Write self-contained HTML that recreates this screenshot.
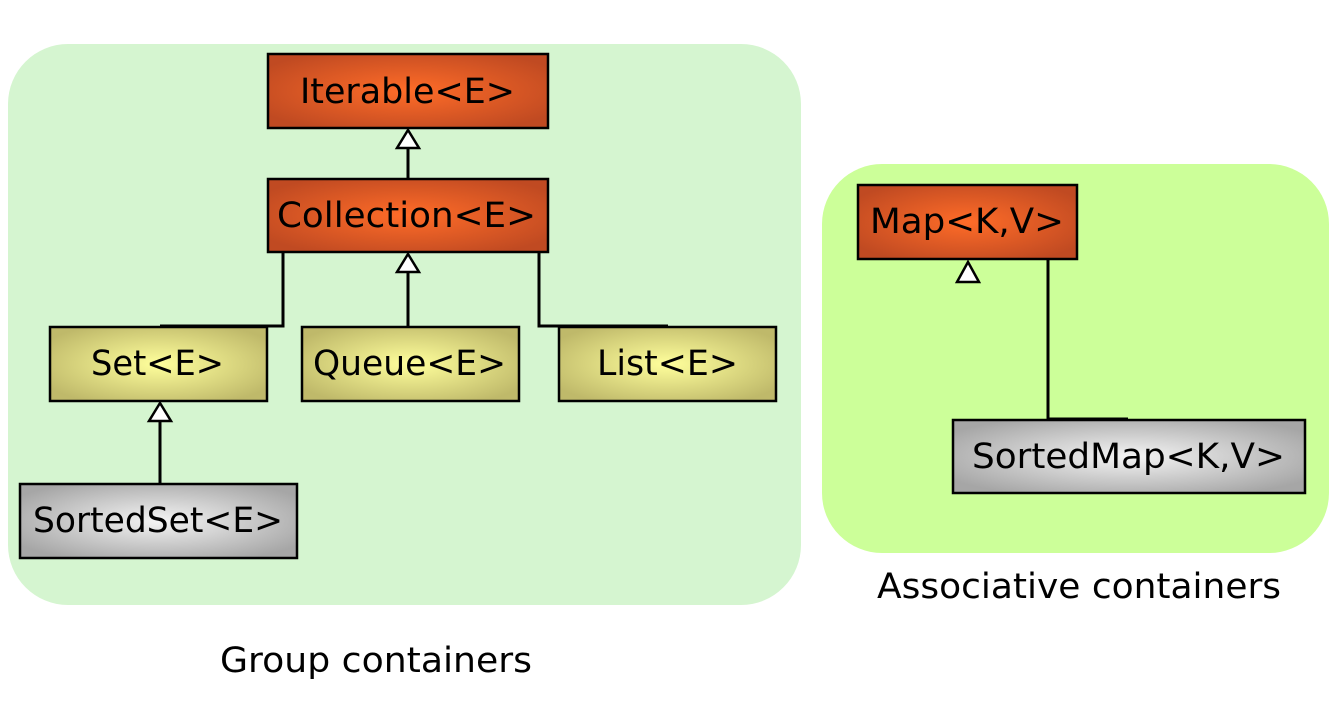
<!DOCTYPE html>
<html><head><style>body{margin:0;background:#fff}svg{display:block}</style></head>
<body>
<svg width="1338" height="713" viewBox="0 0 1338 713" font-family="'DejaVu Sans','Liberation Sans',sans-serif">
<defs>
<radialGradient id="o" cx="50%" cy="50%" r="60%"><stop offset="0" stop-color="#ff6c28"/><stop offset="1" stop-color="#c04a22"/></radialGradient>
<radialGradient id="y" cx="50%" cy="50%" r="60%"><stop offset="0" stop-color="#ffff9c"/><stop offset="1" stop-color="#bfb96a"/></radialGradient>
<radialGradient id="g" cx="50%" cy="50%" r="60%"><stop offset="0" stop-color="#f4f4f4"/><stop offset="1" stop-color="#a6a6a6"/></radialGradient>
</defs>
<rect x="8" y="44" width="793" height="561" rx="60" fill="#d5f5d0"/>
<rect x="822" y="164" width="507" height="389" rx="60" fill="#ccff99"/>
<g stroke="#000" stroke-width="3" fill="none">
<path d="M408 148V179"/><path d="M408 272V327"/>
<path d="M283 252V326H160"/><path d="M539 252V326H668"/>
<path d="M160 421V484"/>
<path d="M1048 259V419H1128"/>
</g>
<g stroke="#000" stroke-width="2.5" fill="#fff">
<path d="M408 130L397 148H419Z"/><path d="M408 254L397 272H419Z"/>
<path d="M160 403L149 421H171Z"/><path d="M968 262L957 282H979Z"/>
</g>
<g stroke="#000" stroke-width="2.5">
<rect x="268" y="54" width="280" height="74" fill="url(#o)"/>
<rect x="268" y="179" width="280" height="73" fill="url(#o)"/>
<rect x="50" y="327" width="217" height="74" fill="url(#y)"/>
<rect x="302" y="327" width="217" height="74" fill="url(#y)"/>
<rect x="559" y="327" width="217" height="74" fill="url(#y)"/>
<rect x="20" y="484" width="277" height="74" fill="url(#g)"/>
<rect x="858" y="185" width="219" height="74" fill="url(#o)"/>
<rect x="953" y="420" width="352" height="73" fill="url(#g)"/>
</g>
<g font-size="35" fill="#000">
<text x="300" y="103" textLength="215" lengthAdjust="spacingAndGlyphs">Iterable&lt;E&gt;</text>
<text x="277" y="227" textLength="259" lengthAdjust="spacingAndGlyphs">Collection&lt;E&gt;</text>
<text x="91" y="375" textLength="133" lengthAdjust="spacingAndGlyphs">Set&lt;E&gt;</text>
<text x="313" y="375" textLength="193" lengthAdjust="spacingAndGlyphs">Queue&lt;E&gt;</text>
<text x="597" y="375" textLength="141" lengthAdjust="spacingAndGlyphs">List&lt;E&gt;</text>
<text x="33" y="532" textLength="250" lengthAdjust="spacingAndGlyphs">SortedSet&lt;E&gt;</text>
<text x="870" y="233" textLength="194" lengthAdjust="spacingAndGlyphs">Map&lt;K,V&gt;</text>
<text x="972" y="468" textLength="313" lengthAdjust="spacingAndGlyphs">SortedMap&lt;K,V&gt;</text>
<text x="220" y="672" textLength="312" lengthAdjust="spacingAndGlyphs">Group containers</text>
<text x="877" y="598" textLength="404" lengthAdjust="spacingAndGlyphs">Associative containers</text>
</g>
</svg>
</body></html>
